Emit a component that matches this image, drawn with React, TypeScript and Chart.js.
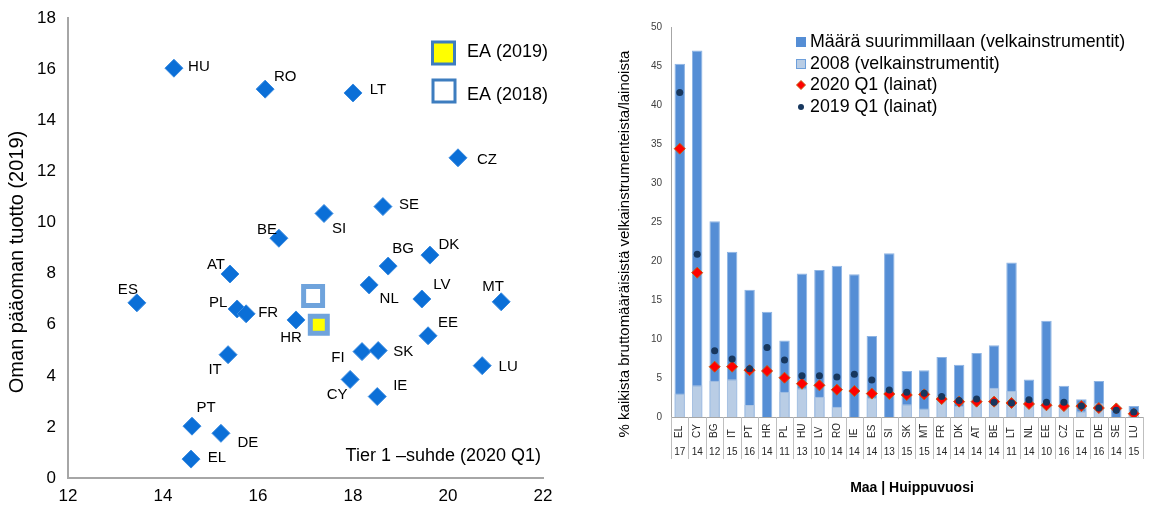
import React, { useEffect, useRef } from 'react';
import { Chart, registerables } from 'chart.js';
Chart.register(...registerables);

const FONT = "'Liberation Sans', Arial, sans-serif";

// ---------- Left chart data ----------
const countries = ['HU','RO','LT','CZ','SE','SI','BE','BG','DK','AT','ES','PL','FR','HR','NL','LV','MT','EE','FI','SK','LU','CY','IE','IT','PT','DE','EL'];
const tier1 = [14.23,16.15,18.0,20.21,18.63,17.39,16.44,18.74,19.62,15.41,13.45,15.56,15.75,16.8,18.34,19.45,21.12,19.58,18.19,18.53,20.72,17.94,18.51,15.37,14.61,15.22,14.59];
const roe = [16.05,15.23,15.08,12.54,10.63,10.36,9.39,8.3,8.73,7.99,6.86,6.62,6.43,6.19,7.56,7.01,6.9,5.57,4.95,4.99,4.4,3.86,3.19,4.83,2.03,1.75,0.74];
const eaLabels = ['EA (2019)', 'EA (2018)'];
const eaTier1 = [17.28, 17.16];
const eaRoe = [6.0, 7.13];
const xTitleLeft = 'Tier 1 –suhde (2020 Q1)';
const yTitleLeft = 'Oman pääoman tuotto (2019)';

// label placement (pixel offsets of the country label from its marker) – style only
const labelOffsets: [number, number][] = [
  [25,-1],[20,-12],[25,-3],[29,2],[26,-2],[15,15],[-12,-8],[15,-17],[19,-10],[-14,-9],
  [-9,-13],[-19,-6],[22,-1],[-5,18],[20,14],[20,-14],[-8,-15],[20,-13],[-24,6],[25,1],
  [26,1],[-13,15],[23,-11],[-13,15],[14,-18],[27,10],[26,-1],
];

// ---------- Right chart data ----------
const peakCountries = ['EL','CY','BG','IT','PT','HR','PL','HU','LV','RO','IE','ES','SI','SK','MT','FR','DK','AT','BE','LT','NL','EE','CZ','FI','DE','SE','LU'];
const peakYears = ['17','14','12','15','16','14','11','13','10','14','14','14','13','15','15','14','14','14','14','11','14','10','16','14','16','14','15'];
const peakValues = [45.3,47.0,25.1,21.2,16.3,13.5,9.8,18.4,18.85,19.4,18.3,10.4,21.0,5.9,6.0,7.7,6.7,8.2,9.2,19.8,4.8,12.35,4.0,2.26,4.6,1.3,1.4];
const values2008 = [3.0,4.06,4.66,4.83,1.54,0,3.25,3.67,2.6,1.3,0,2.5,0,1.62,1.1,2.7,1.45,1.9,3.76,3.37,1.75,2.0,1.3,0.73,1.75,0,0.3];
const loans2020 = [34.4,18.5,6.45,6.45,6.0,5.9,5.04,4.27,4.06,3.5,3.33,3.0,2.95,2.82,2.9,2.3,1.97,1.97,1.97,1.8,1.67,1.5,1.4,1.4,1.15,1.1,0.42];
const loans2019 = [41.6,20.85,8.5,7.43,6.2,8.9,7.3,5.3,5.3,5.13,5.47,4.74,3.46,3.16,3.03,2.64,2.1,2.3,1.88,1.8,2.2,1.88,1.9,1.41,1.15,0.86,0.64];
const seriesNames = ['Määrä suurimmillaan (velkainstrumentit)', '2008 (velkainstrumentit)', '2020 Q1 (lainat)', '2019 Q1 (lainat)'];
const yTitleRight = '% kaikista bruttomääräisistä velkainstrumenteista/lainoista';
const xTitleRight = 'Maa | Huippuvuosi';

const BLUE = '#0b6fd7';
const DARK = '#558ed5';
const LIGHT = '#b9cde5';
const RED = '#ff0000';
const NAVY = '#17375e';

export default function App() {
  const leftRef = useRef<HTMLCanvasElement>(null);
  const rightRef = useRef<HTMLCanvasElement>(null);

  useEffect(() => {
    document.body.style.margin = '0';
    Chart.defaults.font.family = FONT;

    const leftPlugin = {
      id: 'leftDeco',
      afterDatasetsDraw(chart: any) {
        const ctx = chart.ctx;
        const meta = chart.getDatasetMeta(0);
        ctx.save();
        ctx.fillStyle = '#000';
        ctx.font = `15px ${FONT}`;
        ctx.textAlign = 'center';
        ctx.textBaseline = 'middle';
        meta.data.forEach((el: any, i: number) => {
          const [dx, dy] = labelOffsets[i];
          ctx.fillText(countries[i], el.x + dx, el.y + dy);
        });
        // y title
        ctx.save();
        ctx.translate(17, 262);
        ctx.rotate(-Math.PI / 2);
        ctx.font = `20px ${FONT}`;
        ctx.fillText(yTitleLeft, 0, 0);
        ctx.restore();
        // x title inside plot
        ctx.font = `18px ${FONT}`;
        ctx.textAlign = 'right';
        ctx.fillText(xTitleLeft, 541, 456);
        // legend
        const items = [
          { cx: 443.5, cy: 53, ty: 52, fill: '#ffff00' },
          { cx: 444, cy: 91, ty: 95, fill: '#ffffff' },
        ];
        items.forEach((it, i) => {
          ctx.fillStyle = it.fill;
          ctx.fillRect(it.cx - 11, it.cy - 11, 22, 22);
          ctx.strokeStyle = '#3d7dbf';
          ctx.lineWidth = 3;
          ctx.strokeRect(it.cx - 11, it.cy - 11, 22, 22);
          ctx.fillStyle = '#000';
          ctx.textAlign = 'left';
          ctx.fillText(eaLabels[i], 467, it.ty);
        });
        ctx.restore();
      },
    };

    const left = new Chart(leftRef.current!, {
      type: 'scatter',
      data: {
        datasets: [
          {
            label: 'countries',
            data: tier1.map((x, i) => ({ x, y: roe[i] })),
            pointStyle: 'rectRot',
            radius: 9,
            backgroundColor: BLUE,
            borderColor: '#3a8be0',
            borderWidth: 1,
          },
          {
            label: eaLabels[1],
            data: [{ x: eaTier1[1], y: eaRoe[1] }],
            pointStyle: 'rect',
            radius: 13.4,
            backgroundColor: '#ffffff',
            borderColor: '#6fa3dc',
            borderWidth: 5,
          },
          {
            label: eaLabels[0],
            data: [{ x: eaTier1[0], y: eaRoe[0] }],
            pointStyle: 'rect',
            radius: 12,
            backgroundColor: '#ffff00',
            borderColor: '#6fa3dc',
            borderWidth: 5,
          },
        ],
      },
      options: {
        animation: false,
        responsive: false,
        maintainAspectRatio: false,
        layout: { padding: { top: 16, right: 32, left: 0, bottom: 0 } },
        plugins: { legend: { display: false }, tooltip: { enabled: false } },
        scales: {
          x: {
            type: 'linear', min: 12, max: 22,
            ticks: { stepSize: 2, color: '#000', font: { size: 17 }, padding: 8 },
            grid: { display: false, drawTicks: false },
            border: { color: '#a6a6a6', width: 2 },
            afterFit: (s: any) => { s.height = 33; },
          },
          y: {
            min: 0, max: 18,
            ticks: { stepSize: 2, color: '#000', font: { size: 17 }, padding: 12 },
            grid: { display: false, drawTicks: false },
            border: { color: '#a6a6a6', width: 2 },
            afterFit: (s: any) => { s.width = 68; s.paddingTop = 0; s.paddingBottom = 0; },
          },
        },
      },
      plugins: [leftPlugin],
    } as any);

    const rightPlugin = {
      id: 'rightDeco',
      afterDraw(chart: any) {
        const ctx = chart.ctx;
        const xs = chart.scales.x;
        const area = chart.chartArea;
        const n = peakCountries.length;
        const w = (area.right - area.left) / n;
        ctx.save();
        // separators
        ctx.strokeStyle = '#bfbfbf';
        ctx.lineWidth = 1;
        for (let i = 0; i <= n; i++) {
          const bx = Math.round(area.left + i * w) + 0.5;
          ctx.beginPath();
          ctx.moveTo(bx, area.bottom);
          ctx.lineTo(bx, 459);
          ctx.stroke();
        }
        ctx.fillStyle = '#262626';
        ctx.font = `10px ${FONT}`;
        peakCountries.forEach((c, i) => {
          const x = xs.getPixelForValue(i);
          ctx.save();
          ctx.translate(x, 438);
          ctx.rotate(-Math.PI / 2);
          ctx.textAlign = 'left';
          ctx.textBaseline = 'middle';
          ctx.fillText(c, 0, 0);
          ctx.restore();
          ctx.textAlign = 'center';
          ctx.textBaseline = 'middle';
          ctx.fillText(peakYears[i], x, 452);
        });
        // titles
        ctx.fillStyle = '#000';
        ctx.font = `bold 14px ${FONT}`;
        ctx.textAlign = 'center';
        ctx.textBaseline = 'middle';
        ctx.fillText(xTitleRight, 337, 488);
        ctx.save();
        ctx.translate(50, 244);
        ctx.rotate(-Math.PI / 2);
        ctx.font = `15px ${FONT}`;
        ctx.fillText(yTitleRight, 0, 0);
        ctx.restore();
        // legend
        const lx = 226;
        const rows = [42, 64, 85, 107];
        ctx.fillStyle = DARK;
        ctx.fillRect(lx - 5, rows[0] - 5, 10, 10);
        ctx.fillStyle = LIGHT;
        ctx.fillRect(lx - 5, rows[1] - 5, 10, 10);
        ctx.strokeStyle = '#6d9fdb';
        ctx.strokeRect(lx - 4.5, rows[1] - 4.5, 9, 9);
        ctx.beginPath();
        ctx.moveTo(lx, rows[2] - 4.5);
        ctx.lineTo(lx + 4.5, rows[2]);
        ctx.lineTo(lx, rows[2] + 4.5);
        ctx.lineTo(lx - 4.5, rows[2]);
        ctx.closePath();
        ctx.fillStyle = RED;
        ctx.fill();
        ctx.strokeStyle = '#c65911';
        ctx.stroke();
        ctx.beginPath();
        ctx.arc(lx, rows[3], 3, 0, Math.PI * 2);
        ctx.fillStyle = NAVY;
        ctx.fill();
        ctx.fillStyle = '#000';
        ctx.font = `17.8px ${FONT}`;
        ctx.textAlign = 'left';
        seriesNames.forEach((s, i) => ctx.fillText(s, 235, rows[i]));
        ctx.restore();
      },
    };

    const right = new Chart(rightRef.current!, {
      type: 'bar',
      data: {
        labels: peakCountries,
        datasets: [
          {
            type: 'line', label: seriesNames[3], data: loans2019, showLine: false,
            pointStyle: 'circle', radius: 3.5, backgroundColor: NAVY, borderColor: NAVY, borderWidth: 0, order: 0,
          },
          {
            type: 'line', label: seriesNames[2], data: loans2020, showLine: false,
            pointStyle: 'rectRot', radius: 5.5, backgroundColor: RED, borderColor: '#c65911', borderWidth: 1, order: 1,
          },
          {
            type: 'bar', label: seriesNames[1], data: values2008, backgroundColor: LIGHT,
            borderColor: '#a9c2e2', borderWidth: 1, grouped: false, barPercentage: 0.6, categoryPercentage: 1, order: 2,
          },
          {
            type: 'bar', label: seriesNames[0], data: peakValues, backgroundColor: DARK,
            borderColor: '#8eb4e3', borderWidth: 1, grouped: false, barPercentage: 0.6, categoryPercentage: 1, order: 3,
          },
        ],
      },
      options: {
        animation: false,
        responsive: false,
        maintainAspectRatio: false,
        layout: { padding: { top: 27, right: 0, left: 0, bottom: 0 } },
        plugins: { legend: { display: false }, tooltip: { enabled: false } },
        scales: {
          x: {
            ticks: { display: false },
            grid: { display: false, drawTicks: false },
            border: { color: '#a6a6a6', width: 1 },
            afterFit: (s: any) => { s.height = 94; },
          },
          y: {
            min: 0, max: 50,
            ticks: { stepSize: 5, color: '#404040', font: { size: 10 }, padding: 9 },
            grid: { display: false, drawTicks: false },
            border: { color: '#a6a6a6', width: 1 },
            afterFit: (s: any) => { s.width = 96; },
          },
        },
      },
      plugins: [rightPlugin],
    } as any);

    return () => { left.destroy(); right.destroy(); };
  }, []);

  return (
    <div style={{ position: 'fixed', left: 0, top: 0, width: 1149, height: 511, background: '#fff' }}>
      <canvas ref={leftRef} width={575} height={511} style={{ position: 'absolute', left: 0, top: 0 }} />
      <canvas ref={rightRef} width={574} height={511} style={{ position: 'absolute', left: 575, top: 0 }} />
    </div>
  );
}
